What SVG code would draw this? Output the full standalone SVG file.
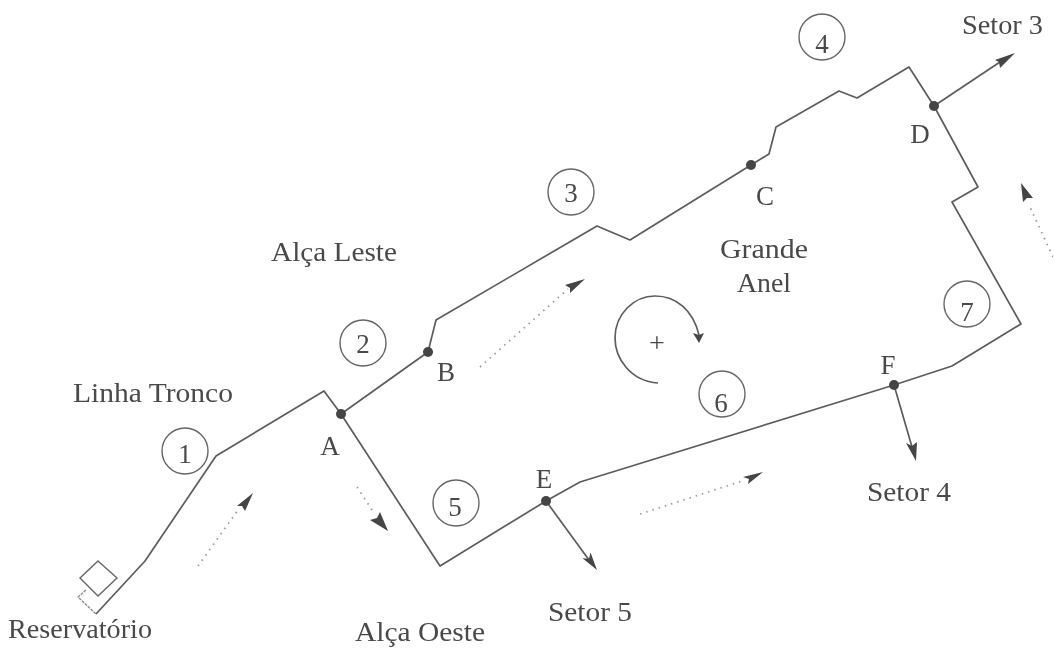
<svg xmlns="http://www.w3.org/2000/svg" width="1055" height="648" viewBox="0 0 1055 648">
<style>
text{font-family:"Liberation Serif",serif;font-size:27px;fill:#4a4a4a}
.m{text-anchor:middle}
.l{fill:none;stroke:#5c5c5c;stroke-width:1.7;stroke-linejoin:round}
.c{fill:none;stroke:#666;stroke-width:1.4}
.d{fill:#444}
.f{fill:none;stroke:#999;stroke-width:1.8;stroke-dasharray:1.5 5}
.h{fill:#444}
</style>
<defs><filter id="b" x="0" y="0" width="100%" height="100%"><feGaussianBlur stdDeviation="0.5"/></filter></defs>
<rect width="1055" height="648" fill="#fff"/>
<g filter="url(#b)">
<g id="connectors">
<path class="l" d="M96 614L145 561L216 456L324 391L341 414L440 566L546 501L580 482L894 385L952 366L1021 324L952 202L978 187L934 106L909 67L857 98L839 91L776 127L769 154L751 165L630 240L597 226L436 320L428 352L341 414"/>
<path class="l" d="M934 106L1003 60M546 501L589 560M894 385L912 447"/>
<path class="f" d="M198 566L238 510M357 487L374 513M480 367L568 289M640 514L742 481M1053 257L1029 205"/>
<path class="l" d="M658 383C630 381 615 358 615 338C615 314 634 296 655 296C676 296 693 310 699 335"/>
<path class="h" d="M1015 53L995 60L999 62L1000 68ZM597 570L590.5 552.5L589 558.7L582.5 558.3ZM916 461L906 443L912 446L917 442ZM253 493L237 506L242 506L245 511ZM388 531L380 512L377 518L370 520ZM585 279L565 285L570 288L570 293ZM763 472L743 477L749 479L748 484ZM1021 183L1023 202L1027 198L1033 198ZM699 343L693 333L699 335L704 333Z"/>
</g>
<g id="reservatorio">
<path class="c" d="M98 561L117 578L98 596L80 578Z"/>
<path class="f" style="stroke:#888;stroke-width:1.3;stroke-dasharray:3 1" d="M86 590L78 597L96 614"/>
<text x="8" y="638" textLength="144" lengthAdjust="spacingAndGlyphs">Reservatório</text>
</g>
<g id="n1"><circle class="c" cx="185" cy="451" r="23"/><text class="m" x="185" y="463">1</text></g>
<g id="n2"><circle class="c" cx="363" cy="343" r="23"/><text class="m" x="363" y="353">2</text></g>
<g id="n3"><circle class="c" cx="571" cy="192" r="23"/><text class="m" x="571" y="202">3</text></g>
<g id="n4"><circle class="c" cx="822" cy="37" r="23"/><text class="m" x="822" y="53">4</text></g>
<g id="n5"><circle class="c" cx="456" cy="503" r="23"/><text class="m" x="455" y="516">5</text></g>
<g id="n6"><circle class="c" cx="722" cy="394" r="23"/><text class="m" x="721" y="412">6</text></g>
<g id="n7"><circle class="c" cx="967" cy="304" r="23"/><text class="m" x="967" y="321">7</text></g>
<g id="A"><circle class="d" cx="341" cy="414" r="5"/><text class="m" x="330" y="455">A</text></g>
<g id="B"><circle class="d" cx="428" cy="352" r="5"/><text class="m" x="446" y="381">B</text></g>
<g id="C"><circle class="d" cx="751" cy="165" r="5"/><text class="m" x="765" y="205">C</text></g>
<g id="D"><circle class="d" cx="934" cy="106" r="5"/><text class="m" x="920" y="143">D</text></g>
<g id="E"><circle class="d" cx="546" cy="501" r="5"/><text class="m" x="544" y="488">E</text></g>
<g id="F"><circle class="d" cx="894" cy="385" r="5"/><text class="m" x="888" y="374">F</text></g>
<g id="labels">
<text x="73" y="402" textLength="160" lengthAdjust="spacingAndGlyphs">Linha Tronco</text>
<text x="271" y="261" textLength="126" lengthAdjust="spacingAndGlyphs">Alça Leste</text>
<text x="720" y="258" textLength="88" lengthAdjust="spacingAndGlyphs">Grande</text>
<text x="737" y="292" textLength="54" lengthAdjust="spacingAndGlyphs">Anel</text>
<text class="m" x="657" y="352" style="font-size:28px">+</text>
<text x="355" y="641" textLength="130" lengthAdjust="spacingAndGlyphs">Alça Oeste</text>
<text x="548" y="621" textLength="84" lengthAdjust="spacingAndGlyphs">Setor 5</text>
<text x="867" y="501" textLength="84" lengthAdjust="spacingAndGlyphs">Setor 4</text>
<text x="962" y="34" textLength="81" lengthAdjust="spacingAndGlyphs">Setor 3</text>
</g>
</g>
</svg>
